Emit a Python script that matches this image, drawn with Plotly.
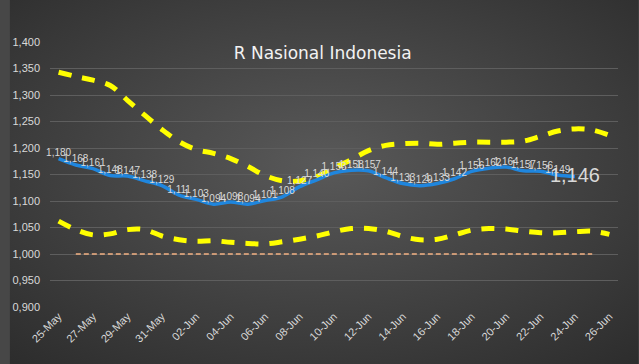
import base64
import plotly.graph_objects as go

dates = ["25-May", "26-May", "27-May", "28-May", "29-May", "30-May", "31-May",
         "01-Jun", "02-Jun", "03-Jun", "04-Jun", "05-Jun", "06-Jun", "07-Jun",
         "08-Jun", "09-Jun", "10-Jun", "11-Jun", "12-Jun", "13-Jun", "14-Jun",
         "15-Jun", "16-Jun", "17-Jun", "18-Jun", "19-Jun", "20-Jun", "21-Jun",
         "22-Jun", "23-Jun", "24-Jun", "25-Jun", "26-Jun"]

r_value = [1.180, 1.168, 1.161, 1.148, 1.147, 1.138, 1.129, 1.111, 1.103, 1.094,
           1.098, 1.094, 1.101, 1.108, 1.127, 1.140, 1.153, 1.158, 1.157, 1.144,
           1.133, 1.129, 1.133, 1.142, 1.156, 1.162, 1.164, 1.157, 1.156, 1.149,
           1.146]

upper = [1.343, 1.335, 1.328, 1.318, 1.290, 1.262, 1.235, 1.212, 1.197, 1.190,
         1.180, 1.165, 1.148, 1.138, 1.138, 1.146, 1.162, 1.178, 1.195, 1.205,
         1.208, 1.209, 1.207, 1.209, 1.211, 1.211, 1.211, 1.213, 1.222, 1.232,
         1.236, 1.234, 1.224]

lower = [1.062, 1.046, 1.036, 1.038, 1.046, 1.046, 1.034, 1.027, 1.024, 1.025,
         1.022, 1.020, 1.019, 1.023, 1.028, 1.034, 1.042, 1.048, 1.048, 1.043,
         1.033, 1.027, 1.028, 1.036, 1.045, 1.048, 1.047, 1.043, 1.040, 1.040,
         1.042, 1.043, 1.037]

threshold_dates = dates[1:32]
threshold = [1.0] * len(threshold_dates)

tick_labels = dates[::2]

label_sizes = [10] * (len(r_value) - 1) + [20]
label_pos = ["top center"] * (len(r_value) - 1) + ["middle center"]

W, H = 639, 364
ML, MR, MT, MB = 41, 21, 42, 57
PW, PH = W - ML - MR, H - MT - MB

svg = ('<svg xmlns="http://www.w3.org/2000/svg" width="639" height="364">'
       '<defs><radialGradient id="g" cx="50%" cy="45%" r="75%">'
       '<stop offset="0" stop-color="#595959"/><stop offset="1" stop-color="#2c2c2c"/>'
       '</radialGradient></defs><rect width="639" height="364" fill="url(#g)"/></svg>')
bg_src = "data:image/svg+xml;base64," + base64.b64encode(svg.encode()).decode()

fig = go.Figure()
fig.add_trace(go.Scatter(x=dates, y=upper, mode="lines",
                         line=dict(color="#ffff00", width=5, dash="13px,11px", shape="spline"),
                         hoverinfo="skip"))
fig.add_trace(go.Scatter(x=dates, y=lower, mode="lines",
                         line=dict(color="#ffff00", width=5, dash="13px,11px", shape="spline"),
                         hoverinfo="skip"))
fig.add_trace(go.Scatter(x=threshold_dates, y=threshold, mode="lines",
                         line=dict(color="#f4b183", width=1.5, dash="5px,3px"),
                         hoverinfo="skip"))
fig.add_trace(go.Scatter(x=dates[:len(r_value)], y=r_value, mode="lines+text",
                         line=dict(color="#1f86de", width=3.5, shape="spline"),
                         texttemplate="%{y:.3f}", textposition=label_pos, cliponaxis=False,
                         textfont=dict(color="#d9d9d9", size=label_sizes,
                                       family="Liberation Sans")))

fig.update_layout(
    width=W, height=H,
    margin=dict(l=ML, r=MR, t=MT, b=MB),
    paper_bgcolor="#474747", plot_bgcolor="rgba(0,0,0,0)",
    separators=",.",
    showlegend=False,
    title=dict(text="R Nasional Indonesia", x=0.505, xanchor="center", y=0.853, yanchor="middle",
               font=dict(family="DejaVu Sans", size=17, color="#f2f2f2")),
    font=dict(family="Liberation Sans", color="#d9d9d9"),
    images=[dict(source=bg_src, xref="paper", yref="paper",
                 x=-ML / PW, y=1 + MT / PH, sizex=W / PW, sizey=H / PH,
                 xanchor="left", yanchor="top", sizing="stretch", layer="below")],
)
fig.update_xaxes(type="category", categoryorder="array", categoryarray=dates,
                 range=[-0.5, len(dates) - 0.5], tickvals=tick_labels, ticktext=tick_labels,
                 tickangle=-45, tickfont=dict(size=11, color="#d9d9d9"),
                 showgrid=False, zeroline=False, showline=False)
fig.update_yaxes(range=[0.9, 1.4], dtick=0.05, tickformat=".3f",
                 tickfont=dict(size=11, color="#d9d9d9"), ticklabelstandoff=9,
                 gridcolor="#5e5e5e", gridwidth=1, zeroline=False, showline=False)

fig.write_html("out.html", config={"displayModeBar": False},
               post_script="document.body.style.margin='0';document.body.style.background='#3a3a3a';")
